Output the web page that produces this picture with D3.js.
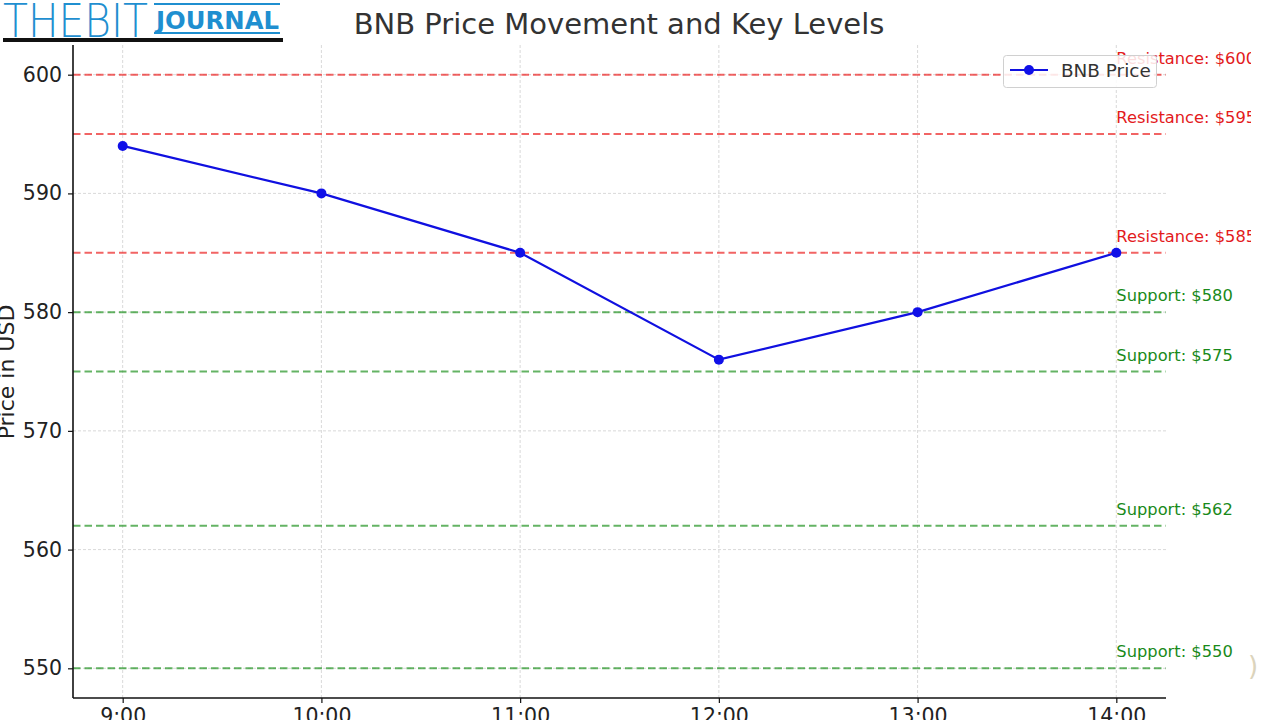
<!DOCTYPE html>
<html><head><meta charset="utf-8">
<script src="https://cdn.jsdelivr.net/npm/d3@7"></script>
<style>body{margin:0;background:#fff}svg{display:block}text{font-family:"DejaVu Sans",sans-serif}</style>
</head><body>
<svg id="c" width="1280" height="720"></svg>
<script>
const times = ["9:00","10:00","11:00","12:00","13:00","14:00"];
const prices = [594, 590, 585, 576, 580, 585];
const resistance = [600, 595, 585];
const support = [580, 575, 562, 550];
const yTicks = [550, 560, 570, 580, 590, 600];

const svg = d3.select("#c");
const x = d3.scaleLinear().domain([-0.25, 5.25]).range([73, 1166]);
const y = d3.scaleLinear().domain([547.5, 602.5]).range([698, 45]);

// grid
const g = svg.append("g");
g.selectAll(".vg").data(times).join("line")
  .attr("x1",(d,i)=>x(i)).attr("x2",(d,i)=>x(i)).attr("y1",45).attr("y2",698)
  .attr("stroke","#cfcfcf").attr("stroke-width",0.8).attr("stroke-dasharray","3,2");
g.selectAll(".hg").data(yTicks).join("line")
  .attr("x1",73).attr("x2",1166).attr("y1",d=>y(d)).attr("y2",d=>y(d))
  .attr("stroke","#cfcfcf").attr("stroke-width",0.8).attr("stroke-dasharray","3,2");

// level lines
const levels = resistance.map(v=>({v,t:"Resistance",c:"rgba(235,40,40,0.72)",tc:"#e31a1c"}))
  .concat(support.map(v=>({v,t:"Support",c:"rgba(40,150,40,0.72)",tc:"#1a8a1a"})));
svg.append("g").selectAll("line").data(levels).join("line")
  .attr("x1",73).attr("x2",1166).attr("y1",d=>y(d.v)).attr("y2",d=>y(d.v))
  .attr("stroke",d=>d.c).attr("stroke-width",2).attr("stroke-dasharray","7.5,4");

// line
svg.append("path").datum(prices)
  .attr("d", d3.line().x((d,i)=>x(i)).y(d=>y(d)))
  .attr("fill","none").attr("stroke","#1010e0").attr("stroke-width",2.2);
svg.append("g").selectAll("circle").data(prices).join("circle")
  .attr("cx",(d,i)=>x(i)).attr("cy",d=>y(d)).attr("r",5).attr("fill","#1010e8");

// labels with clip
svg.append("clipPath").attr("id","lc").append("rect").attr("x",0).attr("y",0).attr("width",1251).attr("height",720);
svg.append("g").attr("clip-path","url(#lc)").selectAll("text").data(levels).join("text")
  .attr("x",x(5)).attr("y",d=>y(d.v)-11).attr("font-size",16.3).attr("fill",d=>d.tc)
  .text(d=>`${d.t}: $${d.v}`);

// axes
const yAxis = d3.axisLeft(y).tickValues(yTicks).tickSize(5).tickPadding(6);
const ya = svg.append("g").attr("transform","translate(73,0)").call(yAxis);
const xAxis = d3.axisBottom(x).tickValues(d3.range(times.length)).tickFormat(i=>times[i]).tickSize(5).tickPadding(5);
const xa = svg.append("g").attr("transform","translate(0,698)").call(xAxis);
[ya,xa].forEach(a=>{
  a.select(".domain").attr("stroke","#111").attr("stroke-width",1.6);
  a.selectAll(".tick line").attr("stroke","#111").attr("stroke-width",1.2);
  a.selectAll("text").attr("font-size",20.5).attr("fill","#222").attr("font-family","DejaVu Sans");
});
ya.select(".domain").attr("d","M0,45V698");
xa.select(".domain").attr("d","M73,0H1166");

svg.append("text").attr("transform","translate(14,372) rotate(-90)").attr("text-anchor","middle")
  .attr("font-size",22).attr("fill","#222").text("Price in USD");

// title
svg.append("text").attr("x",619).attr("y",34).attr("text-anchor","middle").attr("font-size",29)
  .attr("fill","#333").text("BNB Price Movement and Key Levels");

// legend
const lg = svg.append("g");
lg.append("rect").attr("x",1003.5).attr("y",55.5).attr("width",153).attr("height",32).attr("rx",3)
  .attr("fill","rgba(255,255,255,0.85)").attr("stroke","#d0d0d0");
lg.append("line").attr("x1",1010).attr("x2",1048).attr("y1",70).attr("y2",70).attr("stroke","#1010e0").attr("stroke-width",2.2);
lg.append("circle").attr("cx",1029).attr("cy",70).attr("r",5).attr("fill","#1010e8");
lg.append("text").attr("x",1061).attr("y",77).attr("font-size",18.4).attr("fill","#333").text("BNB Price");

// logo
const lo = svg.append("g");
lo.append("text").attr("x",3).attr("y",37).attr("font-family","Liberation Sans").attr("font-size",47)
  .attr("font-weight",300).attr("fill","#1f8fd0").attr("textLength",145).attr("lengthAdjust","spacingAndGlyphs").text("THEBIT");
lo.append("rect").attr("x",154).attr("y",3).attr("width",126).attr("height",2).attr("fill","#1f8fd0");
lo.append("text").attr("x",156).attr("y",29).attr("font-family","Liberation Sans").attr("font-size",25)
  .attr("font-weight","bold").attr("fill","#1f8fd0").attr("textLength",123).attr("lengthAdjust","spacingAndGlyphs").text("JOURNAL");
lo.append("rect").attr("x",154).attr("y",32).attr("width",126).attr("height",2).attr("fill","#1f8fd0");
lo.append("rect").attr("x",3).attr("y",38).attr("width",280).attr("height",4).attr("fill","#111");

svg.append("text").attr("x",1248).attr("y",675).attr("font-size",26).attr("fill","#dcd4bc").text(")");
</script>
</body></html>
